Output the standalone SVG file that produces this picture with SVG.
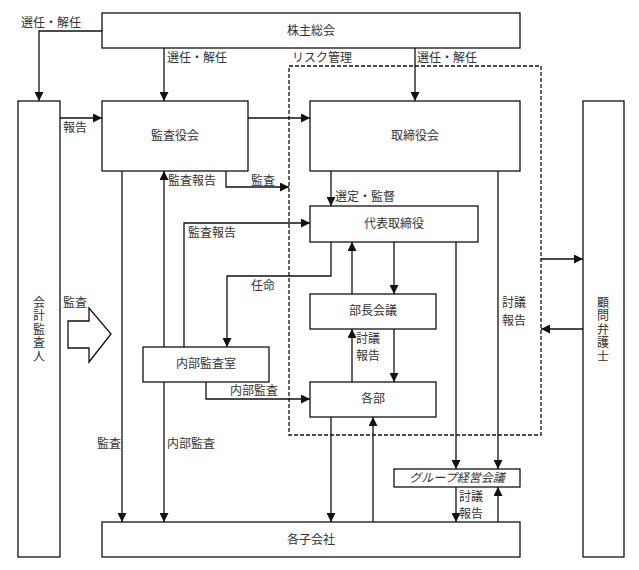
<svg xmlns="http://www.w3.org/2000/svg" width="639" height="570" viewBox="0 0 639 570">
<style>
.box{fill:#fff;stroke:#111;stroke-width:1.3}
.ln{fill:none;stroke:#111;stroke-width:1.3}
.ar{fill:none;stroke:#111;stroke-width:1.3;marker-end:url(#ah)}
.dash{fill:none;stroke:#111;stroke-width:1.3;stroke-dasharray:4 2}
text{font-family:"Noto Sans CJK JP","Noto Sans CJK SC",sans-serif;font-size:12px;fill:#333}
.c{text-anchor:middle}
.it{font-style:italic}
.v{writing-mode:vertical-rl;letter-spacing:1.5px}
</style>
<defs>
<marker id="ah" viewBox="0 0 10 10" refX="10" refY="5" markerWidth="9" markerHeight="9" markerUnits="userSpaceOnUse" orient="auto">
<path d="M0,0 L10,5 L0,10 z" fill="#111"/>
</marker>
</defs>
<rect class="dash" x="289" y="66" width="252" height="369"/>
<g id="connectors">
<path class="ar" d="M102,31 H39 V101"/>
<path class="ar" d="M164,48 V101"/>
<path class="ar" d="M415,48 V101"/>
<path class="ar" d="M60,118 H102"/>
<path class="ar" d="M248,118 H310"/>
<path class="ar" d="M122,171 V522"/>
<path class="ar" d="M164,347 V171"/>
<path class="ar" d="M226,171 V187 H289"/>
<path class="ar" d="M331,171 V206"/>
<path class="ar" d="M184,347 V223 H310"/>
<path class="ar" d="M331,242 V276 H227 V347"/>
<path class="ar" d="M352,294 V242"/>
<path class="ar" d="M394,242 V294"/>
<path class="ar" d="M456,242 V469"/>
<path class="ar" d="M498,171 V469"/>
<path class="ar" d="M352,382 V329"/>
<path class="ar" d="M394,329 V382"/>
<path class="ar" d="M206,382 V399 H310"/>
<path class="ar" d="M164,382 V522"/>
<path class="ar" d="M331,417 V522"/>
<path class="ar" d="M373,522 V417"/>
<path class="ar" d="M456,487 V522"/>
<path class="ar" d="M498,522 V487"/>
<path class="ar" d="M541,259 H583"/>
<path class="ar" d="M583,329 H541"/>
<path class="ln" d="M68,321 H89 V308 L111,334 L89,362 V348 H68 Z" fill="#fff"/>
</g>
<g id="kabunushi"><rect class="box" x="102" y="13" width="418" height="35"/><text class="c" x="311" y="35">株主総会</text></g>
<g id="kaikei"><rect class="box" x="18" y="101" width="42" height="456"/>
<text class="v" x="39" y="296">会計監査人</text></g>
<g id="kansayaku"><rect class="box" x="102" y="101" width="146" height="70"/><text class="c" x="175" y="140">監査役会</text></g>
<g id="torishimari"><rect class="box" x="310" y="101" width="210" height="70"/><text class="c" x="415" y="140">取締役会</text></g>
<g id="komon"><rect class="box" x="583" y="101" width="41" height="456"/>
<text class="v" x="603" y="296">顧問弁護士</text></g>
<g id="daihyo"><rect class="box" x="310" y="206" width="168" height="36"/><text class="c" x="394" y="228">代表取締役</text></g>
<g id="naibu"><rect class="box" x="143" y="347" width="126" height="35"/><text class="c" x="206" y="368">内部監査室</text></g>
<g id="bucho"><rect class="box" x="310" y="294" width="126" height="35"/><text class="c" x="373" y="315">部長会議</text></g>
<g id="kakubu"><rect class="box" x="310" y="382" width="126" height="35"/><text class="c" x="373" y="403">各部</text></g>
<g id="group"><rect class="box" x="394" y="469" width="126" height="18"/><text class="c it" x="457" y="482">グループ経営会議</text></g>
<g id="kogaisha"><rect class="box" x="102" y="522" width="418" height="35"/><text class="c" x="311" y="544">各子会社</text></g>
<g id="labels">
<text x="21" y="27">選任・解任</text>
<text x="167" y="62">選任・解任</text>
<text x="292" y="62">リスク管理</text>
<text x="417" y="62">選任・解任</text>
<text x="63" y="132">報告</text>
<text x="168" y="185">監査報告</text>
<text x="251" y="185">監査</text>
<text x="335" y="201">選定・監督</text>
<text x="188" y="237">監査報告</text>
<text x="251" y="290">任命</text>
<text x="63" y="307">監査</text>
<text x="502" y="307">討議</text>
<text x="502" y="325">報告</text>
<text x="356" y="343">討議</text>
<text x="356" y="360">報告</text>
<text x="230" y="395">内部監査</text>
<text x="97" y="448">監査</text>
<text x="167" y="448">内部監査</text>
<text x="459" y="501">討議</text>
<text x="459" y="518">報告</text>
</g>
</svg>
